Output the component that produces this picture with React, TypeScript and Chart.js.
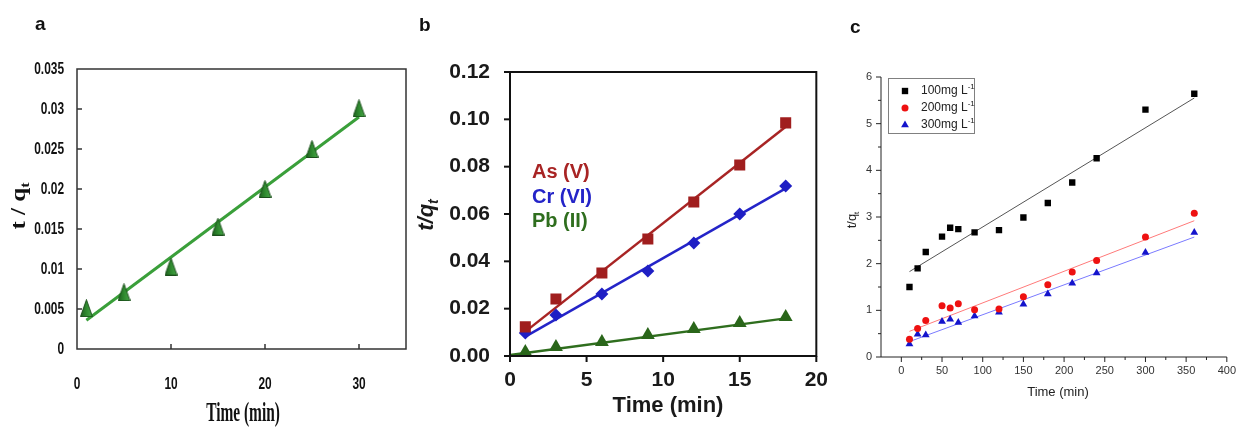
import React, { useEffect, useRef } from "react";
import { Chart, registerables } from "chart.js";
Chart.register(...registerables);

// ---------- Panel a ----------
const aTime = [1, 5, 10, 15, 20, 25, 30];
const aTq = [0.0051, 0.0071, 0.0103, 0.0153, 0.02, 0.025, 0.0301];
const aFitX = [1, 30];
const aFitY = [0.0036, 0.029];
const aXTicks = [0, 10, 20, 30];
const aYTicks = [0, 0.005, 0.01, 0.015, 0.02, 0.025, 0.03, 0.035];

// ---------- Panel b ----------
const bTime = [1, 3, 6, 9, 12, 15, 18];
const bAs = [0.0123, 0.0241, 0.0351, 0.0494, 0.0651, 0.0807, 0.0985];
const bCr = [0.0097, 0.0173, 0.0262, 0.0359, 0.0477, 0.06, 0.0718];
const bPb = [0.0017, 0.0038, 0.0059, 0.0089, 0.0114, 0.0139, 0.0165];
const bFitX = [1, 18];
const bPbFitX = [0, 18];
const bAsFit = [0.0103, 0.0969];
const bCrFit = [0.0082, 0.0708];
const bPbFit = [0.0004, 0.0159];
const bNames = ["As (V)", "Cr (VI)", "Pb (II)"];
const bXTicks = [0, 5, 10, 15, 20];
const bYTicks = [0, 0.02, 0.04, 0.06, 0.08, 0.1, 0.12];

// ---------- Panel c ----------
const cTime = [10, 20, 30, 50, 60, 70, 90, 120, 150, 180, 210, 240, 300, 360];
const c100 = [1.5, 1.9, 2.25, 2.58, 2.77, 2.74, 2.67, 2.72, 2.99, 3.3, 3.74, 4.26, 5.3, 5.64];
const c200 = [0.38, 0.61, 0.78, 1.1, 1.05, 1.14, 1.01, 1.03, 1.29, 1.55, 1.82, 2.07, 2.57, 3.08];
const c300 = [0.28, 0.49, 0.47, 0.76, 0.81, 0.74, 0.88, 0.96, 1.13, 1.35, 1.58, 1.8, 2.24, 2.67];
const cFitX = [10, 360];
const c100Fit = [1.83, 5.55];
const c200Fit = [0.55, 2.92];
const c300Fit = [0.33, 2.57];
const cNames = ["100mg L", "200mg L", "300mg L"];
const cUnitSup = "-1";
const cXTicks = [0, 50, 100, 150, 200, 250, 300, 350, 400];
const cXMinor = [25, 75, 125, 175, 225, 275, 325, 375];
const cYTicks = [0, 1, 2, 3, 4, 5, 6];
const cYMinor = [0.5, 1.5, 2.5, 3.5, 4.5, 5.5];

const pts = (xs: number[], ys: number[]) => xs.map((x, i) => ({ x, y: ys[i] }));

const SANS = "'Liberation Sans', Arial, sans-serif";
const SERIF = "'Liberation Serif', 'Times New Roman', serif";

type Part = { text: string; font: string; dy?: number };
type Rich = {
  parts: Part[];
  x: number;
  y: number;
  color: string;
  rotate?: number;
  align?: "left" | "center" | "right";
  scaleX?: number;
  baseline?: CanvasTextBaseline;
};

function drawRich(ctx: CanvasRenderingContext2D, t: Rich) {
  ctx.save();
  ctx.translate(t.x, t.y);
  if (t.rotate) ctx.rotate(t.rotate);
  if (t.scaleX) ctx.scale(t.scaleX, 1);
  ctx.fillStyle = t.color;
  ctx.textBaseline = t.baseline || "alphabetic";
  ctx.textAlign = "left";
  const widths = t.parts.map((p) => {
    ctx.font = p.font;
    return ctx.measureText(p.text).width;
  });
  const total = widths.reduce((a, b) => a + b, 0);
  let cx = t.align === "left" ? 0 : t.align === "right" ? -total : -total / 2;
  t.parts.forEach((p, i) => {
    ctx.font = p.font;
    ctx.fillText(p.text, cx, p.dy || 0);
    cx += widths[i];
  });
  ctx.restore();
}

function drawMarker(ctx: CanvasRenderingContext2D, style: string, x: number, y: number, r: number, color: string) {
  ctx.fillStyle = color;
  ctx.beginPath();
  if (style === "rect") {
    const s = r * Math.SQRT1_2;
    ctx.rect(x - s, y - s, 2 * s, 2 * s);
  } else if (style === "circle") {
    ctx.arc(x, y, r, 0, Math.PI * 2);
  } else if (style === "triangle") {
    const w = (r * Math.sqrt(3)) / 2;
    ctx.moveTo(x, y - r);
    ctx.lineTo(x + w, y + r / 2);
    ctx.lineTo(x - w, y + r / 2);
    ctx.closePath();
  }
  ctx.fill();
}

const decorPlugin = {
  id: "decor",
  afterDraw(chart: any, _args: any, opts: any) {
    const ctx: CanvasRenderingContext2D = chart.ctx;
    const ca = chart.chartArea;
    ctx.save();
    if (opts.frame) {
      ctx.strokeStyle = opts.frame.color;
      ctx.lineWidth = opts.frame.width;
      ctx.strokeRect(ca.left, ca.top, ca.right - ca.left, ca.bottom - ca.top);
    }
    if (opts.axisLines) {
      ctx.strokeStyle = opts.axisLines.color;
      ctx.lineWidth = opts.axisLines.width;
      ctx.beginPath();
      ctx.moveTo(ca.left, ca.top);
      ctx.lineTo(ca.left, ca.bottom);
      ctx.lineTo(ca.right, ca.bottom);
      ctx.stroke();
    }
    (opts.ticks || []).forEach((t: any) => {
      const s = chart.scales[t.scale];
      ctx.strokeStyle = t.color;
      ctx.lineWidth = t.width;
      const draw = (vals: number[], len: number) =>
        vals.forEach((v) => {
          const p = s.getPixelForValue(v);
          ctx.beginPath();
          if (s.isHorizontal()) {
            const dir = t.dir === "in" ? -1 : 1;
            ctx.moveTo(p, ca.bottom);
            ctx.lineTo(p, ca.bottom + dir * len);
          } else {
            const dir = t.dir === "in" ? 1 : -1;
            ctx.moveTo(ca.left, p);
            ctx.lineTo(ca.left + dir * len, p);
          }
          ctx.stroke();
        });
      draw(t.major, t.len);
      if (t.minor) draw(t.minor, t.minorLen);
    });
    // condensed tick labels, placed through the chart's own scales
    (opts.tickLabels || []).forEach((tl: any) => {
      const s = chart.scales[tl.scale];
      s.ticks.forEach((tk: any) => {
        const p = s.getPixelForValue(tk.value);
        const horiz = s.isHorizontal();
        drawRich(ctx, {
          parts: [{ text: String(tk.value), font: tl.font }],
          x: horiz ? p : ca.left - tl.offset,
          y: horiz ? ca.bottom + tl.offset : p,
          color: tl.color,
          align: horiz ? "center" : "right",
          baseline: "middle",
          scaleX: tl.scaleX,
        });
      });
    });
    if (opts.legend) {
      const L = opts.legend;
      ctx.strokeStyle = L.boxColor;
      ctx.lineWidth = 1;
      ctx.strokeRect(L.box[0] + 0.5, L.box[1] + 0.5, L.box[2], L.box[3]);
      L.items.forEach((it: any) => {
        const ds = chart.data.datasets[it.datasetIndex];
        drawMarker(ctx, ds.pointStyle, L.markerX, it.y, ds.pointRadius, ds.backgroundColor);
        drawRich(ctx, {
          parts: [
            { text: it.name, font: L.font },
            { text: it.sup, font: L.supFont, dy: -4 },
          ],
          x: L.textX,
          y: it.y,
          color: L.textColor,
          align: "left",
          baseline: "middle",
        });
      });
    }
    (opts.texts || []).forEach((t: Rich) => drawRich(ctx, t));
    ctx.restore();
  },
};

function makeTriangleImage() {
  const c = document.createElement("canvas");
  c.width = 13;
  c.height = 18;
  const g = c.getContext("2d")!;
  const grad = g.createLinearGradient(0, 0, 13, 0);
  grad.addColorStop(0, "#1d5a1d");
  grad.addColorStop(0.5, "#2f8a2f");
  grad.addColorStop(1, "#4aa84a");
  g.fillStyle = grad;
  g.beginPath();
  g.moveTo(6.5, 0.5);
  g.lineTo(12.5, 17.5);
  g.lineTo(0.5, 17.5);
  g.closePath();
  g.fill();
  g.strokeStyle = "#1a4f1a";
  g.lineWidth = 1;
  g.stroke();
  return c;
}

const noInteract = { legend: { display: false }, tooltip: { enabled: false } };

function configA(): any {
  return {
    type: "scatter",
    data: {
      datasets: [
        {
          label: "t / qt",
          data: pts(aTime, aTq),
          pointStyle: makeTriangleImage(),
          pointRadius: 8,
          order: 0,
        },
        {
          label: "fit",
          data: pts(aFitX, aFitY),
          showLine: true,
          pointRadius: 0,
          borderColor: "#3a9f3a",
          borderWidth: 3,
          order: 1,
        },
      ],
    },
    options: {
      animation: false,
      responsive: false,
      events: [],
      layout: { padding: { top: 69, right: 7, left: 0, bottom: 0 } },
      plugins: {
        ...noInteract,
        decor: {
          frame: { color: "#333", width: 1.5 },
          ticks: [
            { scale: "x", major: aXTicks.slice(1), dir: "in", len: 5, color: "#333", width: 1.5 },
            { scale: "y", major: aYTicks.slice(1, -1), dir: "in", len: 5, color: "#333", width: 1.5 },
          ],
          tickLabels: [
            { scale: "x", font: `bold 17px ${SANS}`, scaleX: 0.7, offset: 35, color: "#111" },
            { scale: "y", font: `bold 17px ${SANS}`, scaleX: 0.7, offset: 13, color: "#111" },
          ],
          texts: [
            {
              parts: [{ text: "Time (min)", font: `bold 28px ${SERIF}` }],
              x: 243,
              y: 421,
              scaleX: 0.55,
              color: "#111",
            },
            {
              parts: [
                { text: "t / q", font: `bold 20px ${SERIF}` },
                { text: "t", font: `bold 13px ${SERIF}`, dy: 4 },
              ],
              x: 25,
              y: 206,
              rotate: -Math.PI / 2,
              scaleX: 1.25,
              color: "#111",
            },
          ],
        },
      },
      scales: {
        x: {
          type: "linear",
          min: 0,
          max: 35,
          grid: { display: false, drawTicks: false },
          border: { display: false },
          afterBuildTicks: (s: any) => {
            s.ticks = aXTicks.map((v) => ({ value: v }));
          },
          afterFit: (s: any) => {
            s.height = 78;
          },
          ticks: { display: false },
        },
        y: {
          type: "linear",
          min: 0,
          max: 0.035,
          grid: { display: false, drawTicks: false },
          border: { display: false },
          afterBuildTicks: (s: any) => {
            s.ticks = aYTicks.map((v) => ({ value: v }));
          },
          afterFit: (s: any) => {
            s.width = 77;
          },
          ticks: { display: false },
        },
      },
    },
    plugins: [decorPlugin],
  };
}

function configB(): any {
  const bColors = ["#a82424", "#2424c8", "#2f6e1e"];
  return {
    type: "scatter",
    data: {
      datasets: [
        { label: bNames[0], data: pts(bTime, bAs), pointStyle: "rect", pointRadius: 7.8, backgroundColor: "#a01e1e", borderWidth: 0, order: 0 },
        { label: bNames[1], data: pts(bTime, bCr), pointStyle: "rectRot", pointRadius: 6.5, backgroundColor: "#1f1fc4", borderWidth: 0, order: 0 },
        { label: bNames[2], data: pts(bTime, bPb), pointStyle: "triangle", pointRadius: 8, backgroundColor: "#2a661a", borderWidth: 0, order: 0 },
        { label: "As fit", data: pts(bFitX, bAsFit), showLine: true, pointRadius: 0, borderColor: bColors[0], borderWidth: 2.5, order: 1 },
        { label: "Cr fit", data: pts(bFitX, bCrFit), showLine: true, pointRadius: 0, borderColor: bColors[1], borderWidth: 2.5, order: 1 },
        { label: "Pb fit", data: pts(bPbFitX, bPbFit), showLine: true, pointRadius: 0, borderColor: bColors[2], borderWidth: 2.5, order: 1 },
      ],
    },
    options: {
      animation: false,
      responsive: false,
      events: [],
      layout: { padding: { top: 72, right: 12, left: 0, bottom: 0 } },
      plugins: {
        ...noInteract,
        decor: {
          frame: { color: "#111", width: 2 },
          ticks: [
            { scale: "x", major: bXTicks, dir: "out", len: 6, color: "#111", width: 2 },
            { scale: "y", major: bYTicks, dir: "out", len: 6, color: "#111", width: 2 },
          ],
          texts: [
            {
              parts: [{ text: "Time (min)", font: `bold 22px ${SANS}` }],
              x: 253,
              y: 412,
              color: "#1a1a1a",
            },
            {
              parts: [
                { text: "t/q", font: `italic bold 22px ${SANS}` },
                { text: "t", font: `italic bold 14px ${SANS}`, dy: 5 },
              ],
              x: 18,
              y: 215,
              rotate: -Math.PI / 2,
              color: "#1a1a1a",
            },
            { parts: [{ text: bNames[0], font: `bold 20px ${SANS}` }], x: 117, y: 178, color: bColors[0], align: "left" },
            { parts: [{ text: bNames[1], font: `bold 20px ${SANS}` }], x: 117, y: 203, color: bColors[1], align: "left" },
            { parts: [{ text: bNames[2], font: `bold 20px ${SANS}` }], x: 117, y: 227, color: bColors[2], align: "left" },
          ],
        },
      },
      scales: {
        x: {
          type: "linear",
          min: 0,
          max: 20,
          grid: { display: false, drawTicks: false },
          border: { display: false },
          afterBuildTicks: (s: any) => {
            s.ticks = bXTicks.map((v) => ({ value: v }));
          },
          afterFit: (s: any) => {
            s.height = 71;
          },
          ticks: {
            padding: 12,
            autoSkip: false,
            maxRotation: 0,
            color: "#1a1a1a",
            font: { family: SANS, size: 21, weight: "bold" },
            callback: (v: any) => String(v),
          },
        },
        y: {
          type: "linear",
          min: 0,
          max: 0.12,
          grid: { display: false, drawTicks: false },
          border: { display: false },
          afterBuildTicks: (s: any) => {
            s.ticks = bYTicks.map((v) => ({ value: v }));
          },
          afterFit: (s: any) => {
            s.width = 95;
          },
          ticks: {
            padding: 20,
            autoSkip: false,
            color: "#1a1a1a",
            font: { family: SANS, size: 21, weight: "bold" },
            callback: (v: any) => Number(v).toFixed(2),
          },
        },
      },
    },
    plugins: [decorPlugin],
  };
}

function configC(): any {
  return {
    type: "scatter",
    data: {
      datasets: [
        { label: cNames[0] + "⁻¹", data: pts(cTime, c100), pointStyle: "rect", pointRadius: 4.5, backgroundColor: "#000000", borderWidth: 0, order: 0 },
        { label: cNames[1] + "⁻¹", data: pts(cTime, c200), pointStyle: "circle", pointRadius: 3.5, backgroundColor: "#ee1111", borderWidth: 0, order: 0 },
        { label: cNames[2] + "⁻¹", data: pts(cTime, c300), pointStyle: "triangle", pointRadius: 4.5, backgroundColor: "#1414cc", borderWidth: 0, order: 0 },
        { label: "fit 100", data: pts(cFitX, c100Fit), showLine: true, pointRadius: 0, borderColor: "#555555", borderWidth: 1, order: 1 },
        { label: "fit 200", data: pts(cFitX, c200Fit), showLine: true, pointRadius: 0, borderColor: "#ff7a7a", borderWidth: 1, order: 1 },
        { label: "fit 300", data: pts(cFitX, c300Fit), showLine: true, pointRadius: 0, borderColor: "#7a7aff", borderWidth: 1, order: 1 },
      ],
    },
    options: {
      animation: false,
      responsive: false,
      events: [],
      layout: { padding: { top: 77, right: 9, left: 0, bottom: 0 } },
      plugins: {
        ...noInteract,
        decor: {
          axisLines: { color: "#222", width: 1 },
          ticks: [
            { scale: "x", major: cXTicks, minor: cXMinor, dir: "out", len: 5, minorLen: 3, color: "#222", width: 1 },
            { scale: "y", major: cYTicks, minor: cYMinor, dir: "out", len: 5, minorLen: 3, color: "#222", width: 1 },
          ],
          legend: {
            box: [48, 78, 86, 55],
            boxColor: "#808080",
            markerX: 65,
            textX: 81,
            font: `12px ${SANS}`,
            supFont: `8px ${SANS}`,
            textColor: "#222",
            items: [
              { datasetIndex: 0, y: 91, name: cNames[0], sup: cUnitSup },
              { datasetIndex: 1, y: 108, name: cNames[1], sup: cUnitSup },
              { datasetIndex: 2, y: 125, name: cNames[2], sup: cUnitSup },
            ],
          },
          texts: [
            {
              parts: [{ text: "Time (min)", font: `13px ${SANS}` }],
              x: 218,
              y: 396,
              color: "#222",
            },
            {
              parts: [
                { text: "t/q", font: `13px ${SANS}` },
                { text: "t", font: `8px ${SANS}`, dy: 3 },
              ],
              x: 16,
              y: 220,
              rotate: -Math.PI / 2,
              color: "#222",
            },
          ],
        },
      },
      scales: {
        x: {
          type: "linear",
          min: -25,
          max: 400,
          grid: { display: false, drawTicks: false },
          border: { display: false },
          afterBuildTicks: (s: any) => {
            s.ticks = cXTicks.map((v) => ({ value: v }));
          },
          afterFit: (s: any) => {
            s.height = 70;
          },
          ticks: {
            padding: 7,
            autoSkip: false,
            maxRotation: 0,
            color: "#333",
            font: { family: SANS, size: 11 },
            callback: (v: any) => String(v),
          },
        },
        y: {
          type: "linear",
          min: 0,
          max: 6,
          grid: { display: false, drawTicks: false },
          border: { display: false },
          afterBuildTicks: (s: any) => {
            s.ticks = cYTicks.map((v) => ({ value: v }));
          },
          afterFit: (s: any) => {
            s.width = 41;
          },
          ticks: {
            padding: 9,
            autoSkip: false,
            color: "#333",
            font: { family: SANS, size: 11 },
            callback: (v: any) => String(v),
          },
        },
      },
    },
    plugins: [decorPlugin],
  };
}

function ChartPanel(props: { left: number; width: number; height: number; make: () => any }) {
  const ref = useRef<HTMLCanvasElement>(null);
  useEffect(() => {
    const chart = new Chart(ref.current as HTMLCanvasElement, props.make());
    return () => chart.destroy();
  }, []);
  return (
    <canvas
      ref={ref}
      width={props.width}
      height={props.height}
      style={{ position: "absolute", left: props.left, top: 0, width: props.width, height: props.height }}
    />
  );
}

const letterStyle = (left: number, top: number): React.CSSProperties => ({
  position: "absolute",
  left,
  top,
  fontFamily: SANS,
  fontWeight: "bold",
  fontSize: 19,
  lineHeight: "19px",
  color: "#111",
});

export default function App() {
  return (
    <div style={{ position: "absolute", left: 0, top: 0, width: 1243, height: 427, background: "#fff", overflow: "hidden" }}>
      <ChartPanel left={0} width={415} height={427} make={configA} />
      <ChartPanel left={415} width={425} height={427} make={configB} />
      <ChartPanel left={840} width={403} height={427} make={configC} />
      <div style={letterStyle(35, 14)}>a</div>
      <div style={letterStyle(419, 15)}>b</div>
      <div style={letterStyle(850, 17)}>c</div>
    </div>
  );
}
